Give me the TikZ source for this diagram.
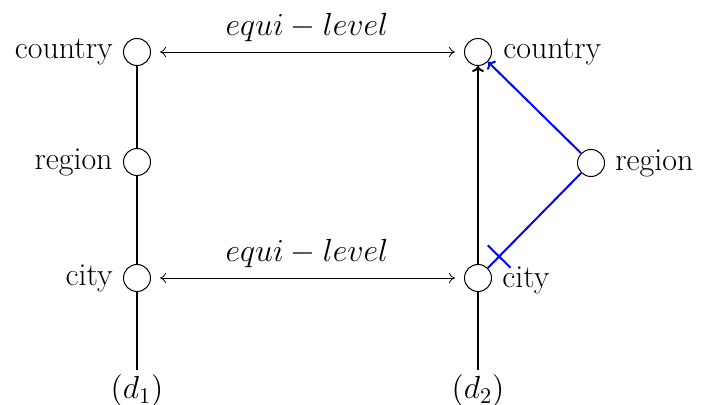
\documentclass[tikz,border=0pt]{standalone}
\usepackage{fix-cm}
\usepackage{fontspec}
\usetikzlibrary{arrows.meta,decorations.markings}
\begin{document}
\begin{tikzpicture}[x=0.5pt,y=-0.5pt,
  pt/.style={circle, draw, line width=0.5pt, minimum size=13.5pt, inner sep=0pt},
  lbl/.style={inner sep=0pt, font=\fontsize{16}{19}\selectfont},
  mlbl/.style={inner sep=0pt, font=\fontsize{16}{19}\selectfont},
  eq/.style={line width=0.4pt, {To[length=3pt,width=5pt]}-{To[length=3pt,width=5pt]}, shorten <=4.5pt, shorten >=4.5pt},
  thick line/.style={line width=1pt},
  blueline/.style={blue, line width=1pt}]
\useasboundingbox (0,0) rectangle (702,405);
% left column
\node[pt] (L1) at (137,52) {};
\node[pt] (L2) at (137,162) {};
\node[pt] (L3) at (137,278) {};
\coordinate (Lb) at (137,370);
% right column
\node[pt] (R1) at (478,52) {};
\node[pt] (R3) at (478,278) {};
\node[pt] (R2) at (591,163) {};
\coordinate (Rb) at (478,370);
% labels
\node[lbl, anchor=east] (tL1) at (113,52) {country};
\node[lbl, anchor=east] (tL2) at (113,162) {region};
\node[lbl, anchor=east] (tL3) at (113,278) {city};
\node[lbl, anchor=west] (tR1) at (503,52) {country};
\node[lbl, anchor=west] (tR2) at (615,163) {region};
\node[lbl, anchor=west] (tR3) at (502,280) {city};
\node[mlbl] (e1) at (307,28) {$equi-level$};
\node[mlbl] (e2) at (307,254) {$equi-level$};
\node[mlbl] (d1) at (137,391) {$(d_1)$};
\node[mlbl] (d2) at (478,391) {$(d_2)$};
% left verticals
\draw[thick line] (L1) -- (L2);
\draw[thick line] (L2) -- (L3);
\draw[thick line] (L3) -- (Lb);
% right verticals
\draw[thick line, -{To[length=3pt,width=6pt]}] (R3) -- (R1);
\draw[thick line] (R3) -- (Rb);
% equi-level arrows
\draw[eq] (L1) -- (R1);
\draw[eq] (L3) -- (R3);
% blue
\draw[blueline, -{To[length=3pt,width=6pt]}] (R2) -- (R1);
\draw[blueline, postaction={decorate, decoration={markings,
   mark=at position 0.88 with {\draw[blue, line width=1pt] (0,-8pt) -- (0,8pt);}}}] (R2) -- (R3);
\end{tikzpicture}
\end{document}
